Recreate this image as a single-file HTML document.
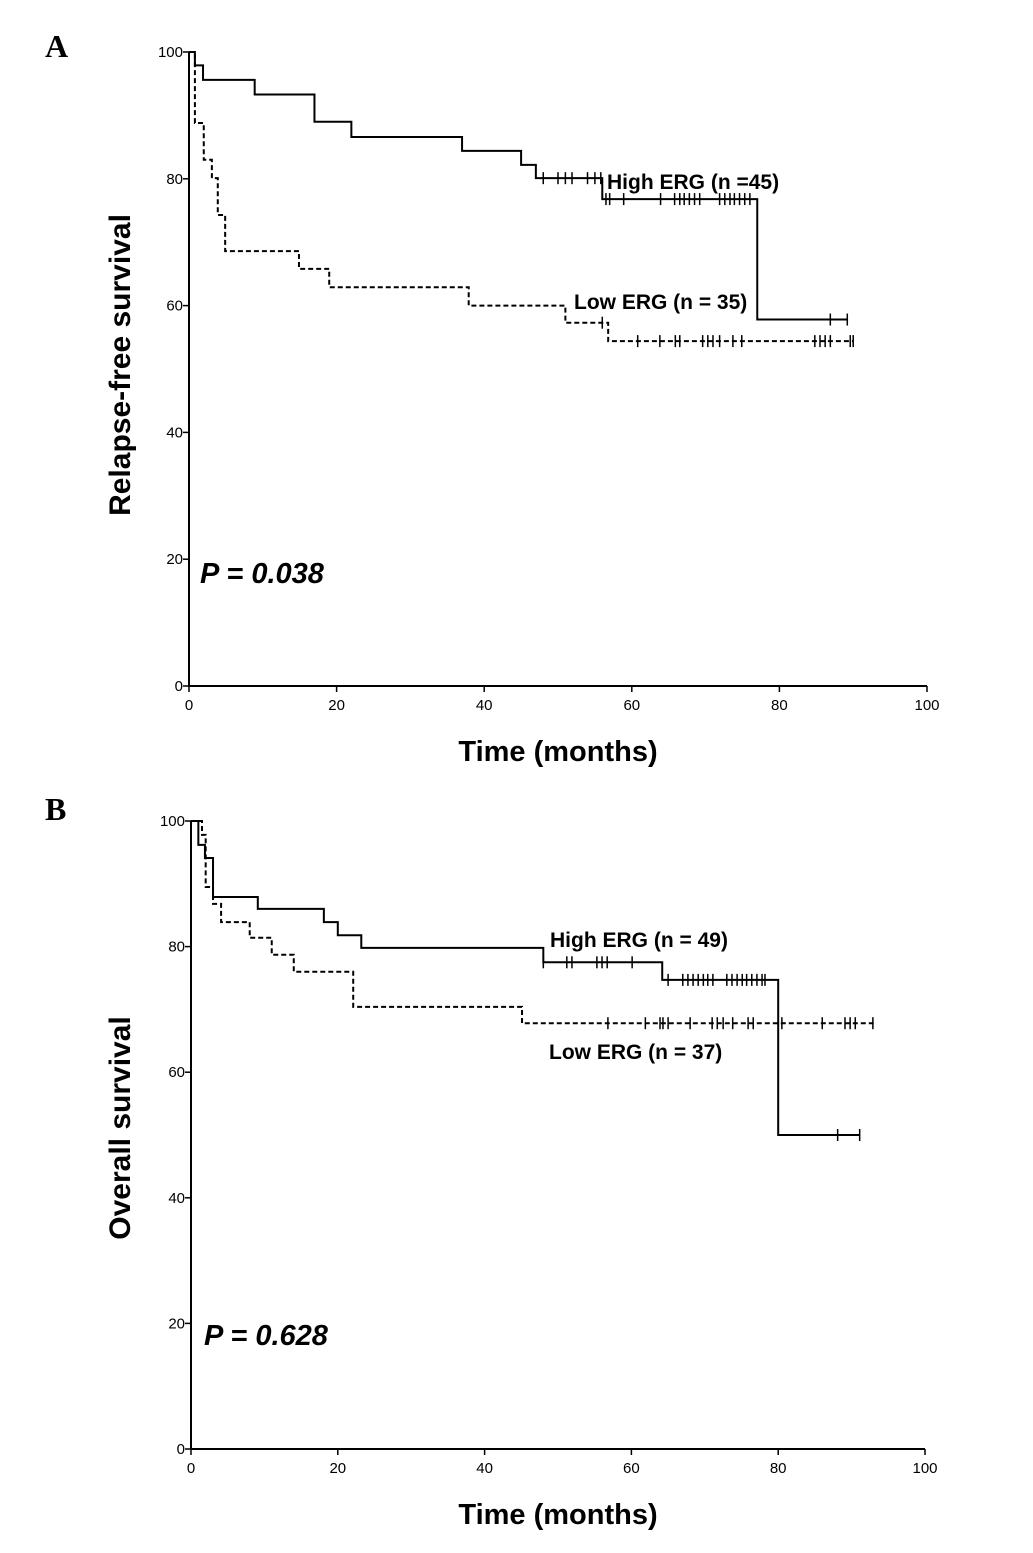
<!DOCTYPE html>
<html><head><meta charset="utf-8"><style>
body{margin:0;background:#fff}
svg{display:block;font-family:"Liberation Sans",Arial,sans-serif}
</style></head><body>
<svg id="c" width="1033" height="1553" viewBox="0 0 1033 1553"></svg>
<script>
// Panel A: Relapse-free survival
const aHighSteps = [[0,100],[0.8,97.9],[1.9,95.6],[8.9,93.3],[17,89],[22,86.6],[37,84.4],[45,82.2],[47,80.1],[56,76.8],[77,57.8]];
const aHighEnd = 89.2;
const aHighCensor = [48,50,51,51.9,54,55,55.8,56.5,57,58.9,63.9,65.8,66.5,67.1,67.8,68.5,69.2,71.9,72.6,73.3,73.9,74.6,75.3,76,86.9,89.2];
const aLowSteps = [[0,100],[0.8,88.8],[2,83],[3.1,80.1],[3.9,74.3],[4.9,68.6],[14.9,65.8],[19,62.9],[37.9,60],[51,57.3],[56.8,54.4]];
const aLowEnd = 90;
const aLowCensor = [56,60.8,63.8,65.9,66.5,69.6,70.3,71,71.9,73.7,74.9,84.8,85.5,86.2,86.9,89.6,90];
// Panel B: Overall survival
const bHighSteps = [[0,100],[1,96.2],[1.9,94.1],[3,87.9],[9.1,86],[18.1,83.9],[20,81.8],[23.2,79.8],[48,77.5],[64.2,74.7],[80,50]];
const bHighEnd = 91.1;
const bHighCensor = [48,51.2,51.9,55.3,56,56.7,60.1,65,67,67.7,68.4,69.1,69.8,70.4,71.1,73,73.7,74.4,75.1,75.7,76.4,77.1,77.8,78.2,88.1,91.1];
const bLowSteps = [[0,100],[1.5,97.8],[2,89.5],[3,86.8],[4.1,83.9],[8,81.4],[11,78.7],[14,76],[22.1,70.4],[45.1,67.8]];
const bLowEnd = 93;
const bLowCensor = [56.8,61.9,63.9,64.3,65,68,71,71.7,72.5,73.8,75.9,76.6,80.5,86,89.1,89.8,90.5,92.9];
const xTicks = [0,20,40,60,80,100];
const yTicks = [0,20,40,60,80,100];

const NS="http://www.w3.org/2000/svg";
const svg=document.getElementById('c');
function mk(tag,attrs,parent){const e=document.createElementNS(NS,tag);for(const k in attrs)e.setAttribute(k,attrs[k]);(parent||svg).appendChild(e);return e;}

function panel(p){
  const g=mk('g',{});
  
  
  const X=v=>p.x0+(p.x1-p.x0)*v/100;
  const Yf=v=>p.y0-(p.y0-p.y100)*v/100;
  const ax=mk('path',{d:`M${p.x0},${p.y100}V${p.y0}H${p.x1}`,stroke:'#000','stroke-width':2,fill:'none'},g);
  
  
  xTicks.forEach(t=>{
    mk('line',{x1:X(t),x2:X(t),y1:p.y0,y2:p.y0+6,stroke:'#000','stroke-width':1.5},g);
    const tx=mk('text',{x:X(t),y:p.y0+24,'font-size':15,'text-anchor':'middle'},g);tx.textContent=t;
    
    
  });
  yTicks.forEach(t=>{
    mk('line',{x1:p.x0-6,x2:p.x0,y1:Yf(t),y2:Yf(t),stroke:'#000','stroke-width':1.5},g);
    const tx=mk('text',{x:p.x0-6,y:Yf(t)+5,'font-size':15,'text-anchor':'end'},g);tx.textContent=t;
    
    
  });
  p.series.forEach(s=>{
    let d=`M${X(0)},${Yf(s.steps[0][1])}`;
    for(let i=1;i<s.steps.length;i++){d+=`H${X(s.steps[i][0])}V${Yf(s.steps[i][1])}`;}
    d+=`H${X(s.end)}`;
    const attrs={d,stroke:'#000','stroke-width':2,fill:'none'};
    if(s.dash)attrs['stroke-dasharray']='5,3';
    const l=mk('path',attrs,g);
    
    
    const stepAt=t=>{let v=100;s.steps.forEach(st=>{if(st[0]<=t)v=st[1];});return v;};
    s.censor.forEach(c=>{
      const m=mk('line',{x1:X(c),x2:X(c),y1:Yf(stepAt(c))-6,y2:Yf(stepAt(c))+6,stroke:'#000','stroke-width':1.5},g);
      
      
    });
  });
  const lt=(txt,x,y,size,extra,name)=>{const t=mk('text',Object.assign({x,y,'font-size':size,'font-weight':'bold'},extra||{}),g);t.textContent=txt;
    
    return t;};
  lt(p.letter,45,p.letterY,32,{'font-family':'"Liberation Serif",serif'},'panel-letter');
  lt(p.ylabel,0,0,30,{'text-anchor':'middle',transform:`translate(130,${p.ylabelY}) rotate(-90)`},'y-axis-title');
  lt('Time (months)',558,p.y0+75,29,{'text-anchor':'middle'},'x-axis-title');
  lt(p.pval,p.pX,p.pY,29,{'font-style':'italic'},'p-value');
  p.labels.forEach(l=>lt(l[0],l[1],l[2],21,{},'series-label'));
}

panel({name:'panel-a',x0:189,x1:927,y0:686,y100:52,letter:'A',letterY:57,ylabel:'Relapse-free survival',ylabelY:365,
  pval:'P = 0.038',pX:200,pY:583,
  labels:[['High ERG (n =45)',607,189],['Low ERG (n = 35)',574,309]],
  series:[{name:'high-erg-line',steps:aHighSteps,end:aHighEnd,censor:aHighCensor},
          {name:'low-erg-line',steps:aLowSteps,end:aLowEnd,censor:aLowCensor,dash:true}]});
panel({name:'panel-b',x0:191,x1:925,y0:1449,y100:821,letter:'B',letterY:820,ylabel:'Overall survival',ylabelY:1128,
  pval:'P = 0.628',pX:204,pY:1345,
  labels:[['High ERG (n = 49)',550,947],['Low ERG (n = 37)',549,1059]],
  series:[{name:'high-erg-line',steps:bHighSteps,end:bHighEnd,censor:bHighCensor},
          {name:'low-erg-line',steps:bLowSteps,end:bLowEnd,censor:bLowCensor,dash:true}]});
</script>
</body></html>
